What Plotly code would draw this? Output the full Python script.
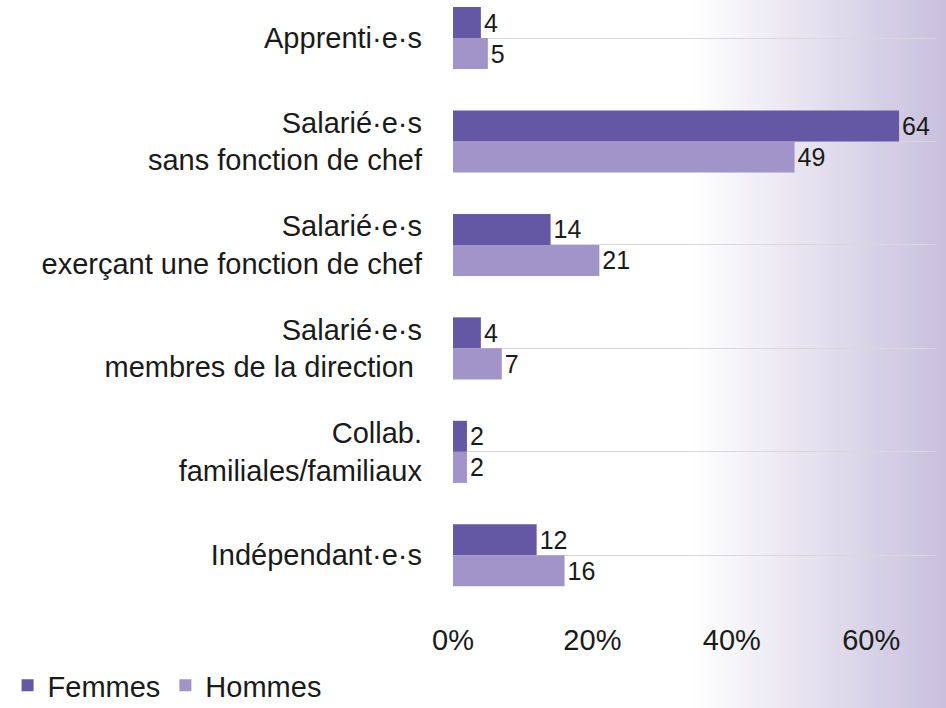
import plotly.graph_objects as go

categories = [
    "Apprenti·e·s",
    "Salarié·e·s<br>sans fonction de chef",
    "Salarié·e·s<br>exerçant une fonction de chef",
    "Salarié·e·s<br>membres de la direction ",
    "Collab.<br>familiales/familiaux",
    "Indépendant·e·s",
]
femmes = [4, 64, 14, 4, 2, 12]
hommes = [5, 49, 21, 7, 2, 16]
x_ticks = [0, 20, 40, 60]
x_tick_labels = ["0%", "20%", "40%", "60%"]

FONT = "Liberation Sans, Arial, Helvetica, sans-serif"
W, H = 946, 708
ML, MR, MT, MB = 453, 10, 0, 101
PW = W - ML - MR
PH = H - MT - MB

fig = go.Figure()
fig.add_trace(go.Bar(
    name="Femmes", y=categories, x=femmes, orientation="h",
    marker=dict(color="#6457a4", line=dict(width=0)),
    text=[str(v) for v in femmes], textposition="outside",
    textfont=dict(size=25, color="#1a1a1a", family=FONT), cliponaxis=False,
))
fig.add_trace(go.Bar(
    name="Hommes", y=categories, x=hommes, orientation="h",
    marker=dict(color="#a094c8", line=dict(width=0)),
    text=[str(v) for v in hommes], textposition="outside",
    textfont=dict(size=25, color="#1a1a1a", family=FONT), cliponaxis=False,
))

# background gradient on the right side
shapes = []
x_start, x_end = 690, W
n = 64
c0 = (255, 255, 255)
c1 = (200, 192, 221)
for i in range(n):
    a = x_start + (x_end - x_start) * i / n
    b = x_start + (x_end - x_start) * (i + 1) / n
    t = (i + 0.5) / n
    col = tuple(round(c0[k] + (c1[k] - c0[k]) * t) for k in range(3))
    shapes.append(dict(
        type="rect", xref="paper", yref="paper",
        x0=(a - ML) / PW, x1=(b - ML) / PW + 0.001,
        y0=-(MB + 5) / PH, y1=1 + 0.01,
        fillcolor="rgb(%d,%d,%d)" % col, line=dict(width=0), layer="below",
    ))

fig.update_layout(
    width=W, height=H,
    margin=dict(l=ML, r=MR, t=MT, b=MB, autoexpand=False),
    paper_bgcolor="white", plot_bgcolor="rgba(0,0,0,0)",
    barmode="group", bargap=0.4, bargroupgap=0,
    font=dict(family=FONT, size=29, color="#1a1a1a"),
    shapes=shapes,
    showlegend=True,
    legend=dict(
        orientation="h", xref="container", yref="paper",
        x=0.008, xanchor="left", y=-(711 - MT - PH) / PH, yanchor="bottom",
        font=dict(size=29, family=FONT, color="#1a1a1a"),
        bgcolor="rgba(0,0,0,0)", itemwidth=30, traceorder="normal",
    ),
    xaxis=dict(
        range=[0, 69.3], tickvals=x_ticks, ticktext=x_tick_labels,
        showgrid=False, zeroline=False, showline=False,
        tickfont=dict(size=29, family=FONT, color="#1a1a1a"),
        ticks="", ticklabelstandoff=13, automargin=False,
    ),
    yaxis=dict(
        range=[5.5, -0.3675], type="category",
        showgrid=True, gridcolor="#d9d7de", gridwidth=1,
        zeroline=False, showline=False, ticks="",
        tickfont=dict(size=29, family=FONT, color="#1a1a1a"),
        ticklabelstandoff=30, automargin=False,
    ),
)

fig.write_html(
    "out.html",
    config={"displayModeBar": False},
    post_script="document.body.style.margin='0';document.body.style.overflow='hidden';",
)
